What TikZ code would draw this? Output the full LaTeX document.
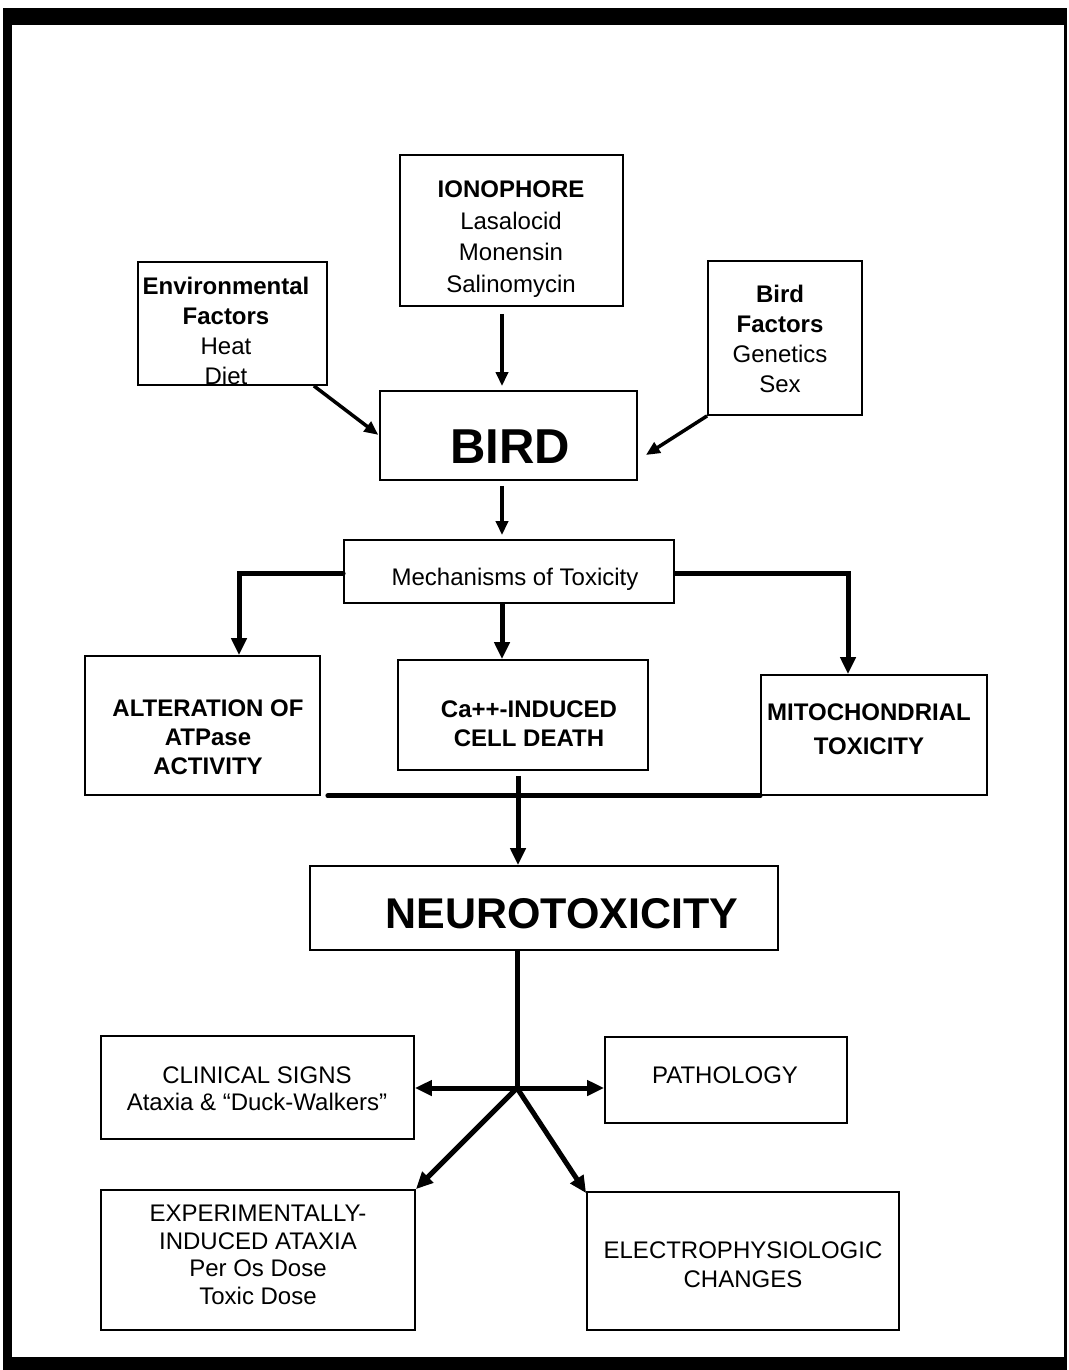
\documentclass[tikz,border=0pt]{standalone}
\usepackage{fontspec}
\setmainfont{Liberation Sans}
\usetikzlibrary{arrows.meta,calc}
\begin{document}
\begin{tikzpicture}[x=1pt,y=-1pt,
  box/.style={draw=black,line width=1.8pt,inner sep=0pt,fill=none},
  txt/.style={inner sep=0pt,align=center,font=\fontsize{24}{30}\selectfont},
  thinarr/.style={line width=3.5pt,-{Triangle[length=14pt,width=12pt]}},
  arr/.style={line width=5pt,-{Triangle[length=17pt,width=15pt]}},
  thickline/.style={line width=5pt}]
\useasboundingbox (0,0) rectangle (1068,1370);
% frame
\fill[black] (3,8) rectangle (1067,1370);
\fill[white] (12,25) rectangle (1064,1357);
% columns
\coordinate (colA) at (502,0);
\coordinate (colB) at (239,0);
\coordinate (colC) at (848,0);
\coordinate (colD) at (518,0);
\coordinate (colE) at (517,0);
\coordinate (hub) at (517,1088);
% boxes
\node[box,minimum width=223pt,minimum height=151pt] (ion) at (511.5,230.5) {};
\node[box,minimum width=189pt,minimum height=123pt] (env) at (232.5,323.5) {};
\node[box,minimum width=154pt,minimum height=154pt] (bf) at (785,338) {};
\node[box,minimum width=257pt,minimum height=89pt] (bird) at (508.5,435.5) {};
\node[box,minimum width=330pt,minimum height=63pt] (mech) at (509,571.5) {};
\node[box,minimum width=235pt,minimum height=139pt] (alt) at (202.5,725.5) {};
\node[box,minimum width=250pt,minimum height=110pt] (ca) at (523,715) {};
\node[box,minimum width=226pt,minimum height=120pt] (mito) at (874,735) {};
\node[box,minimum width=468pt,minimum height=84pt] (neuro) at (544,908) {};
\node[box,minimum width=313pt,minimum height=103pt] (clin) at (257.5,1087.5) {};
\node[box,minimum width=242pt,minimum height=86pt] (path) at (726,1080) {};
\node[box,minimum width=314pt,minimum height=140pt] (exp) at (258,1260) {};
\node[box,minimum width=312pt,minimum height=138pt] (elec) at (743,1261) {};
% texts
\node[txt,font=\fontsize{24}{31.7}\selectfont] (tion) at (511,239) {\textbf{IONOPHORE}\\Lasalocid\\Monensin\\Salinomycin};
\node[txt] (tenv) at (226,331) {\textbf{Environmental}\\\textbf{Factors}\\Heat\\Diet};
\node[txt] (tbf) at (780,339) {\textbf{Bird}\\\textbf{Factors}\\Genetics\\Sex};
\node[txt,font=\fontsize{49}{55}\selectfont\bfseries] (tbird) at (510,447) {BIRD};
\node[txt] (tmech) at (515,579) {Mechanisms of Toxicity};
\node[txt,font=\fontsize{24}{29}\selectfont\bfseries] (talt) at (208,737) {ALTERATION OF\\ATPase\\ACTIVITY};
\node[txt,font=\fontsize{24}{29}\selectfont\bfseries] (tca) at (529,724) {Ca++-INDUCED\\CELL DEATH};
\node[txt,font=\fontsize{24}{34}\selectfont\bfseries] (tmito) at (869,729) {MITOCHONDRIAL\\TOXICITY};
\node[txt,font=\fontsize{43}{50}\selectfont\bfseries] (tneuro) at (562,914) {NEUROTOXICITY};
\node[txt,font=\fontsize{24}{27}\selectfont] (tclin) at (257,1089) {CLINICAL SIGNS\\Ataxia \& “Duck-Walkers”};
\node[txt] (tpath) at (725,1075) {PATHOLOGY};
\node[txt,font=\fontsize{24}{27.5}\selectfont] (texp) at (258,1255) {EXPERIMENTALLY-\\INDUCED ATAXIA\\Per Os Dose\\Toxic Dose};
\node[txt,font=\fontsize{24}{29}\selectfont] (telec) at (743,1265) {ELECTROPHYSIOLOGIC\\CHANGES};
% connectors top
\draw[thinarr,shorten <=7pt,shorten >=4pt] (ion.south -| colA) -- (bird.north -| colA);
\draw[thinarr,shorten >=1pt] ([xshift=-14pt]env.south east) -- (bird.west);
\draw[thinarr] (bf.south west) -- ($(bird.east)+(8,19.5)$);
\draw[thinarr,shorten <=5pt,shorten >=4pt] (bird.south -| colA) -- (mech.north -| colA);
% mechanisms
\draw[arr,line cap=round] ([yshift=-1.5pt]mech.west) -| (alt.north -| colB);
\draw[arr] ([yshift=-1.5pt]mech.east) -| (mito.north -| colC);
\draw[arr] (mech.south -| colA) -- (ca.north -| colA);
% merge bar
\draw[thickline,line cap=round] ([xshift=7pt]alt.south east) -- (mito.south west);
\draw[arr,shorten <=5pt] (ca.south -| colD) -- (neuro.north -| colD);
% neuro outputs
\draw[line width=5pt] (neuro.south -| colE) -- (hub);
\draw[arr] (hub) -- (clin.east |- hub);
\draw[arr] (hub) -- (path.west |- hub);
\draw[arr] (hub) -- (exp.north east);
\draw[arr] (hub) -- ([yshift=-2pt]elec.north west);
\end{tikzpicture}
\end{document}
